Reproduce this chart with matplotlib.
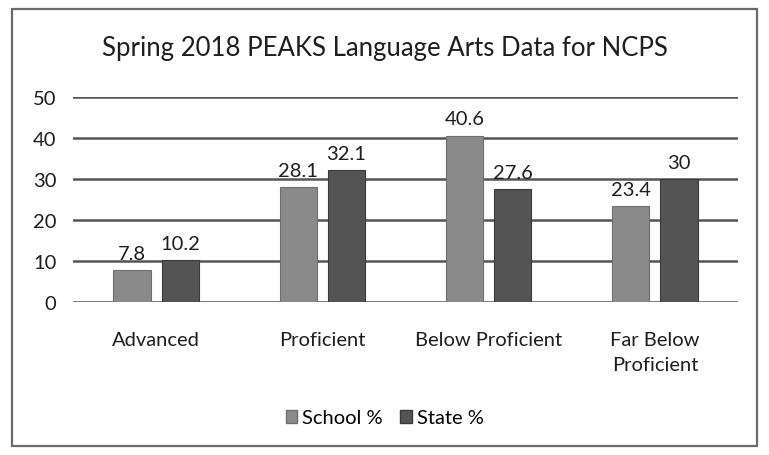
import matplotlib
matplotlib.use("Agg")
import matplotlib.pyplot as plt
from matplotlib.patches import Rectangle, Patch
import numpy as np

categories = ["Advanced", "Proficient", "Below Proficient", "Far Below\nProficient"]
school = [7.8, 28.1, 40.6, 23.4]
state = [10.2, 32.1, 27.6, 30]
series_names = ["School %", "State %"]
yticks = [0, 10, 20, 30, 40, 50]

plt.rcParams["font.family"] = ["Lato", "DejaVu Sans"]
text_color = "#1e1e1e"

fig = plt.figure(figsize=(7.69, 4.56), dpi=100)
fig.patch.set_facecolor("white")

# outer chart frame
fig.patches.append(Rectangle((12 / 769, 1 - 447 / 456), 745 / 769, 437 / 456,
                             transform=fig.transFigure, fill=False,
                             edgecolor="#6a6a6a", linewidth=1.6))

ax = fig.add_axes([73 / 769, 1 - 303 / 456, 665 / 769, 205 / 456])
x = np.arange(len(categories))
w = 0.225
off = 0.145
school_color = "#8a8a8a"
state_color = "#545454"
b1 = ax.bar(x - off, school, w, color=school_color, edgecolor="#6e6e6e", linewidth=0.8, zorder=3)
b2 = ax.bar(x + off, state, w, color=state_color, edgecolor="#3a3a3a", linewidth=0.8, zorder=3)

for bars, vals in ((b1, school), (b2, state)):
    for rect, v in zip(bars, vals):
        ax.text(rect.get_x() + rect.get_width() / 2, v + 2.0, f"{v:g}",
                ha="center", va="bottom", fontsize=14.5, color=text_color, zorder=4)

ax.set_xlim(-0.5, len(categories) - 0.5)
ax.set_ylim(0, 50)
ax.set_yticks(yticks)
ax.set_yticklabels([str(t) for t in yticks], fontsize=14.5, color=text_color)
ax.set_xticks(x)
ax.set_xticklabels(categories, fontsize=14.5, color=text_color, va="top", linespacing=1.55)
ax.tick_params(axis="both", length=0)
ax.tick_params(axis="y", pad=12)
ax.tick_params(axis="x", pad=21)
ax.grid(axis="y", color="#555555", linewidth=1.8, zorder=0)
for s in ax.spines.values():
    s.set_visible(False)

fig.text(0.5, 1 - 49 / 456, "Spring 2018 PEAKS Language Arts Data for NCPS",
         ha="center", va="center", fontsize=18.5, color=text_color)

handles = [Patch(facecolor=school_color, edgecolor="#6e6e6e"),
           Patch(facecolor=state_color, edgecolor="#3a3a3a")]
fig.legend(handles, series_names, loc="center", bbox_to_anchor=(0.5, 1 - 419 / 456),
           ncol=2, frameon=False, fontsize=14.5, handlelength=0.55, handleheight=0.6,
           handletextpad=0.25, columnspacing=0.9)

fig.savefig("out.png", dpi=100)
